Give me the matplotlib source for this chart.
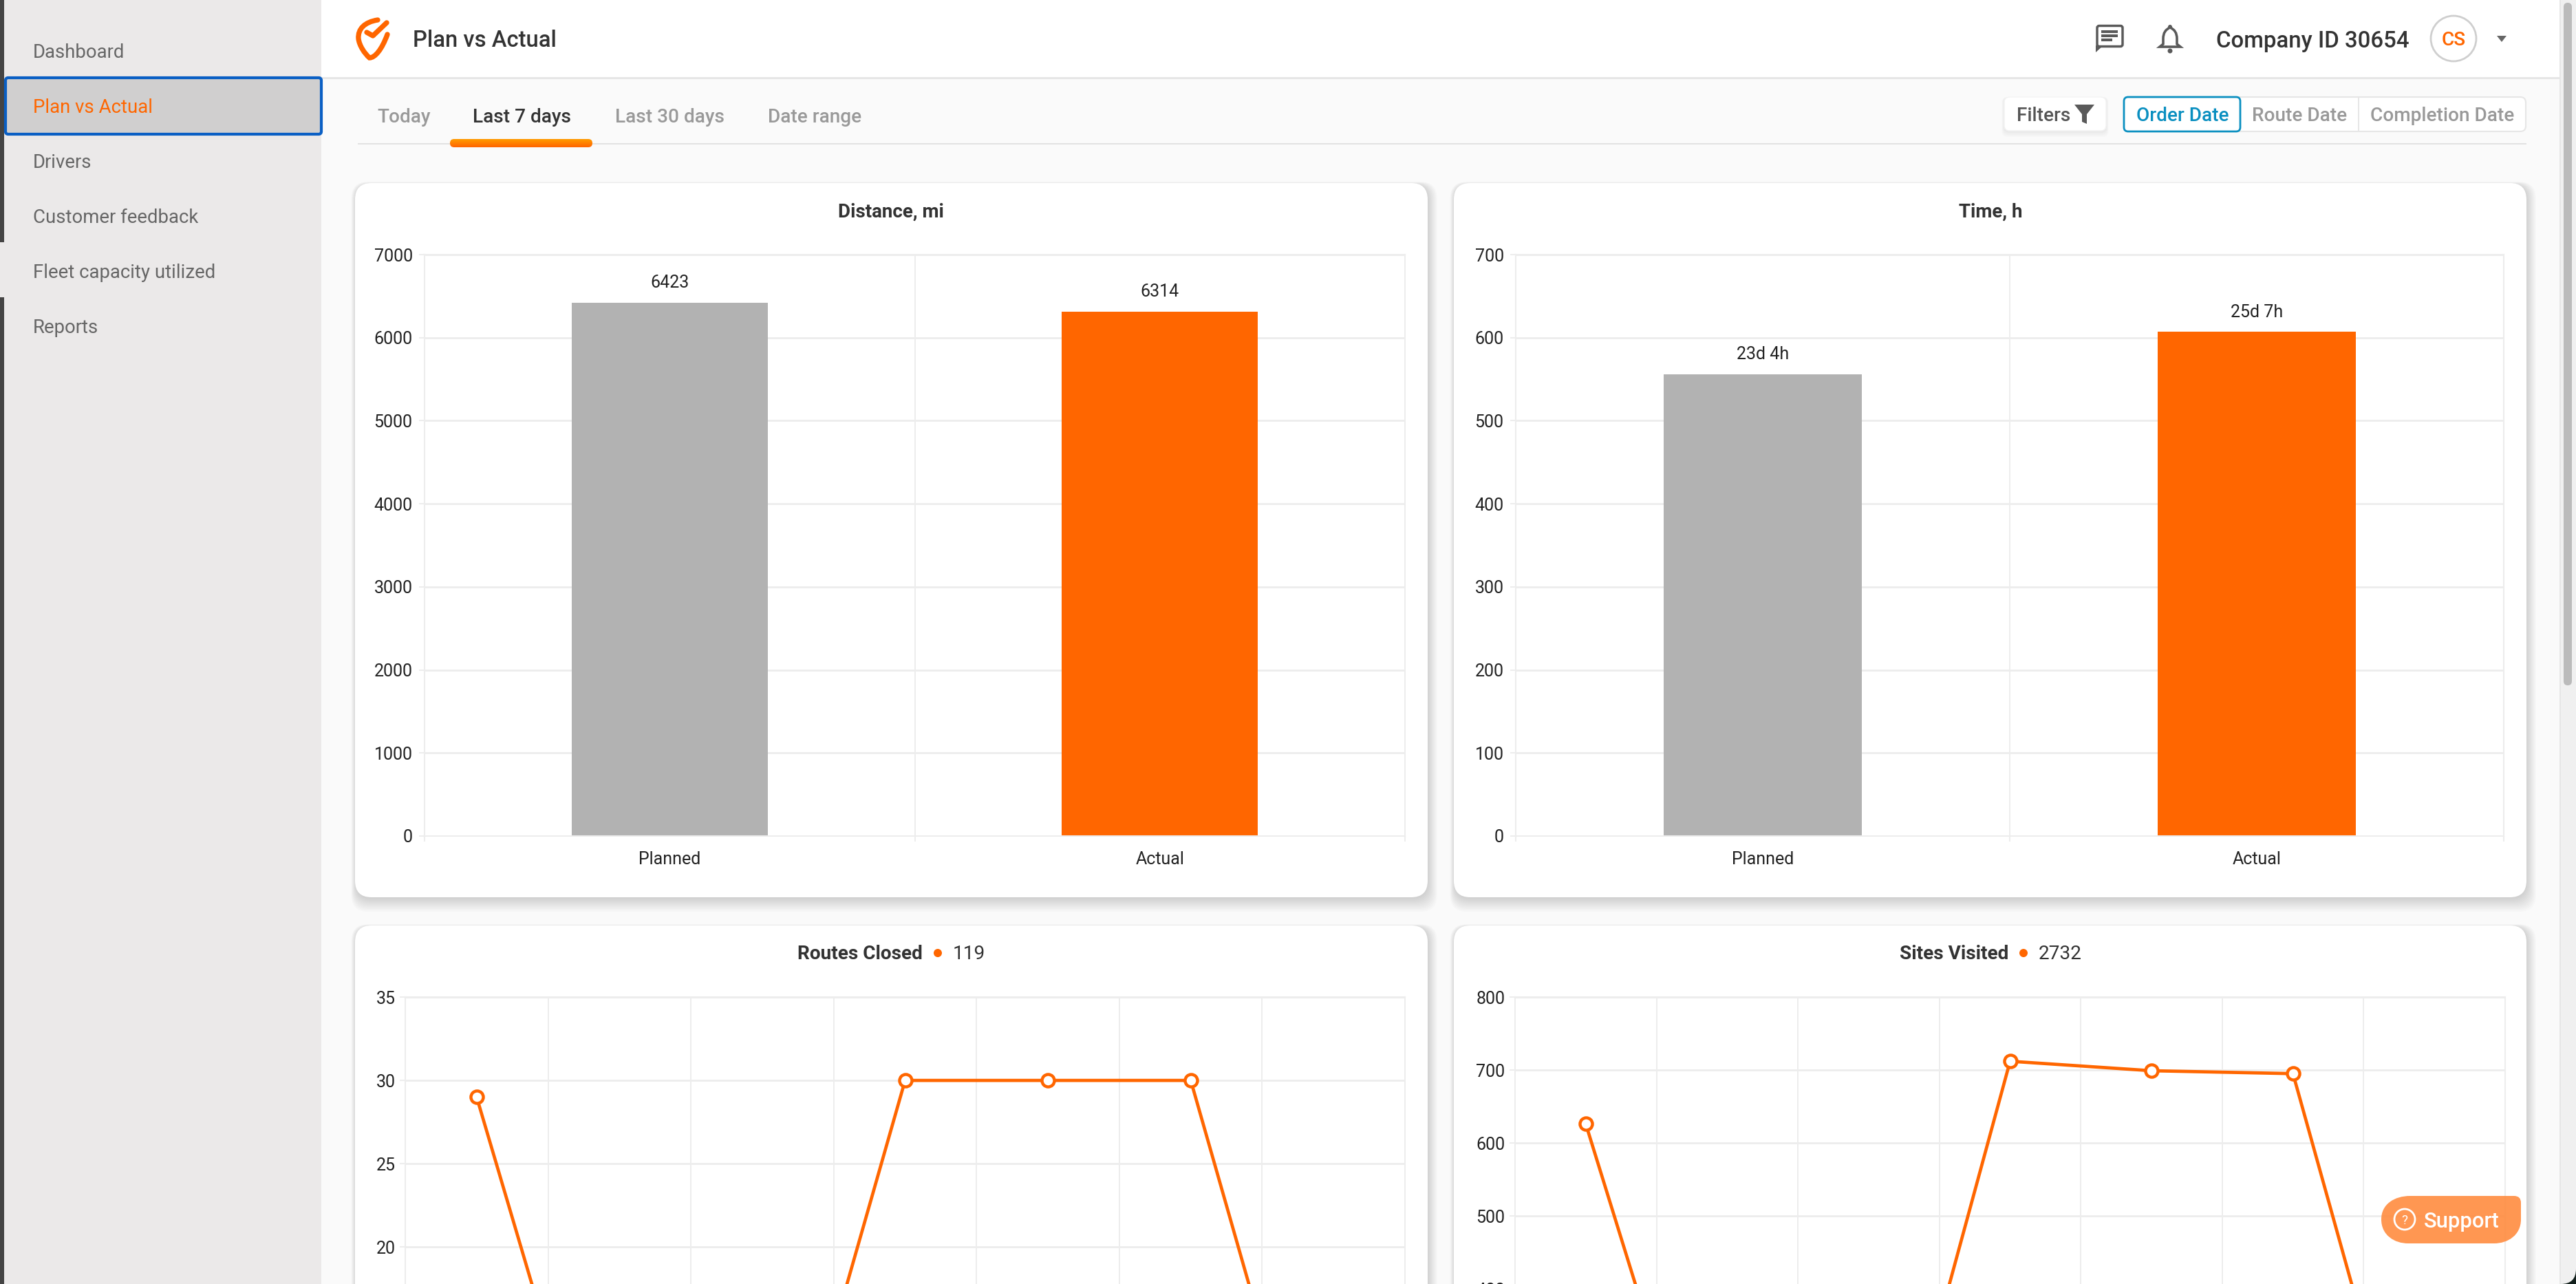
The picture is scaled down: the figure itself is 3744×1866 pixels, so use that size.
import matplotlib
matplotlib.use('Agg')
from matplotlib import pyplot as plt
from matplotlib.patches import FancyBboxPatch, Rectangle, Circle, PathPatch, Polygon
from matplotlib.path import Path
import numpy as np

plt.rcParams['font.family'] = ['Roboto', 'DejaVu Sans']

W, H = 3744, 1866
ORANGE = '#ff6600'
GRAY_BAR = '#b2b2b2'
GRID = '#ededed'
DARK = '#333333'

# bar charts
bar_labels = ['Planned', 'Actual']
distance_values = [6423, 6314]
distance_text = ['6423', '6314']
distance_ticks = [0, 1000, 2000, 3000, 4000, 5000, 6000, 7000]
time_values = [556, 607]
time_text = ['23d 4h', '25d 7h']
time_ticks = [0, 100, 200, 300, 400, 500, 600, 700]

# line charts, the lower part is cut off by the screen
routes_values = [29, 0, 0, 30, 30, 30, 0]
routes_ticks = [20, 25, 30, 35]
sites_values = [626, 0, 0, 712, 699, 695, 0]
sites_ticks = [400, 500, 600, 700, 800]

menu_items = ['Dashboard', 'Plan vs Actual', 'Drivers', 'Customer feedback', 'Fleet capacity utilized', 'Reports']
tab_items = ['Today', 'Last 7 days', 'Last 30 days', 'Date range']
date_items = ['Order Date', 'Route Date', 'Completion Date']

fig = plt.figure(figsize=(W / 100, H / 100), dpi=100, facecolor='#fafafa')
bg = fig.add_axes([0, 0, 1, 1], zorder=0)
top = fig.add_axes([0, 0, 1, 1], zorder=3)
for a in (bg, top):
    a.set_xlim(0, W)
    a.set_ylim(H, 0)
    a.axis('off')


def px(size):
    return size * 0.72


def rect(ax, x0, y0, x1, y1, color, z=1, **kw):
    ax.add_patch(Rectangle((x0, y0), x1 - x0, y1 - y0, facecolor=color, edgecolor='none', zorder=z, **kw))


def rounded(ax, x0, y0, x1, y1, r, face, edge='none', lw=0, z=1, alpha=None):
    patch = FancyBboxPatch((x0 + r, y0 + r), x1 - x0 - 2 * r, y1 - y0 - 2 * r,
                           boxstyle=f'round,pad={r},rounding_size={r}',
                           facecolor=face, edgecolor=edge, linewidth=lw, zorder=z, alpha=alpha)
    ax.add_patch(patch)
    return patch


def label(ax, x, y, s, size, color=DARK, weight='normal', ha='left', z=5):
    ax.text(x, y, s, fontsize=px(size), color=color, fontweight=weight, ha=ha, va='center_baseline', zorder=z)


def card(x0, y0, x1, y1):
    # soft shadow, stronger on the bottom and right
    for i in range(12, 0, -1):
        rounded(bg, x0 + 3 - i * 0.7, y0 + 3 - i * 0.4, x1 - 3 + i * 1.4, y1 - 3 + i * 2.0, 24, '#000000', z=2, alpha=0.017)
    rounded(bg, x0, y0, x1, y1, 24, 'white', z=3)


def chart_axes(x0, y0, x1, y1):
    ax = fig.add_axes([x0 / W, 1 - y1 / H, (x1 - x0) / W, (y1 - y0) / H], zorder=1)
    ax.patch.set_alpha(0)
    for s in ax.spines.values():
        s.set_color(GRID)
        s.set_linewidth(1.5)
    ax.set_axisbelow(True)
    ax.grid(True, axis='y', color=GRID, linewidth=2)
    ax.grid(True, axis='x', color=GRID, linewidth=1.4)
    ax.tick_params(axis='both', color=GRID, length=6, width=1.5, labelcolor='#222222', labelsize=px(25), pad=4.5)
    return ax


def bar_chart(x0, x1, values, texts, ticks):
    ax = chart_axes(x0, 370, x1, 1215)
    ax.bar([0.5, 1.5], values, width=0.4, color=[GRAY_BAR, ORANGE], zorder=2)
    ax.set_xlim(0, 2)
    ax.set_ylim(ticks[0], ticks[-1])
    ax.set_yticks(ticks)
    ax.set_xticks([0, 1, 2])
    ax.set_xticklabels([])
    ax.tick_params(axis='y', pad=6.5)
    for i, name in enumerate(bar_labels):
        ax.annotate(name, (i + 0.5, 0), xytext=(0, -32 * 0.72), textcoords='offset points',
                    ha='center', va='center_baseline', fontsize=px(25), color='#222222')
        ax.annotate(texts[i], (i + 0.5, values[i]), xytext=(0, 31 * 0.72), textcoords='offset points',
                    ha='center', va='center_baseline', fontsize=px(25), color='#222222')


def line_chart(x0, x1, values, ticks, y_max):
    ax = chart_axes(x0, 1449, x1, 2297)
    ax.plot([i + 0.5 for i in range(len(values))], values, color=ORANGE, linewidth=3.4,
            marker='o', markersize=13, markerfacecolor='white', markeredgecolor=ORANGE,
            markeredgewidth=3.2, clip_on=False, zorder=3)
    ax.set_xlim(0, len(values))
    ax.set_ylim(0, y_max)
    ax.set_yticks(ticks)
    ax.set_xticks(range(len(values) + 1))
    ax.set_xticklabels([])
    return ax


# page frame
rect(bg, 0, 0, 467, H, '#ebe9e9')
rect(bg, 467, 0, 3720, 112, 'white')
rect(bg, 467, 112, 3720, 114.5, '#e6e6e6')
rect(bg, 0, 0, 6, 352, '#444444', z=2)
rect(bg, 0, 432, 6, H, '#444444', z=2)
rect(bg, 3720, 0, W, H, '#f0f0f0')
rect(bg, 3720, 0, 3722, H, '#e6e6e6')
rounded(bg, 3726, 4, 3738, 996, 6, '#bbbbbb', z=2)
corner = Path([(W, 1844), (W, H), (3722, H), (W, H), (W, 1844)],
              [Path.MOVETO, Path.CURVE3, Path.CURVE3, Path.LINETO, Path.CLOSEPOLY])
bg.add_patch(PathPatch(corner, facecolor='#12201c', edgecolor='none', zorder=6))

# sidebar
rounded(bg, 8, 113, 467, 195, 4, '#d0cfcf', edge='#0a5fc4', lw=3, z=2)
for i, name in enumerate(menu_items):
    label(bg, 48, 73 + i * 80, name, 27.5, color=ORANGE if i == 1 else '#666666')

# logo
pin = Path([(549, 29), (530, 32), (520, 42), (521, 56), (522, 66), (530, 78), (537, 84), (545, 84), (555, 72), (563, 50)],
           [Path.MOVETO] + [Path.CURVE4] * 9)
bg.add_patch(PathPatch(pin, facecolor='none', edgecolor=ORANGE, linewidth=5.3, capstyle='round', zorder=4))
bg.plot([533, 542, 562], [47, 52, 33], color=ORANGE, linewidth=5.3, solid_capstyle='round', solid_joinstyle='round', zorder=4)

label(bg, 600, 56, 'Plan vs Actual', 32.8, color=DARK, weight='medium')

# header right
rounded(bg, 3048, 37.5, 3085, 67.5, 3, 'none', edge='#5a5a5a', lw=2.5, z=4)
bg.add_patch(Polygon([(3046, 66), (3046, 76), (3056, 67)], facecolor='#5a5a5a', zorder=4))
for yy, x_end in [(46, 3078), (52, 3078), (58, 3070)]:
    rect(bg, 3054, yy - 2, x_end, yy + 2, '#5a5a5a', z=4)
bell = Path([(3154, 40), (3144, 44), (3144, 56), (3144, 64), (3139, 68), (3169, 68), (3164, 64), (3164, 56), (3164, 44), (3154, 40)],
            [Path.MOVETO, Path.CURVE3, Path.CURVE3, Path.LINETO, Path.LINETO, Path.LINETO, Path.LINETO, Path.LINETO, Path.CURVE3, Path.CURVE3])
bg.add_patch(PathPatch(bell, facecolor='none', edgecolor='#5a5a5a', linewidth=2.6, zorder=4))
bg.add_patch(Circle((3154, 74), 3.5, facecolor='#5a5a5a', zorder=4))
bg.add_patch(Circle((3154, 39), 3, facecolor='#5a5a5a', zorder=4))
label(bg, 3221, 56, 'Company ID 30654', 33, color=DARK, weight='medium')
bg.add_patch(Circle((3566, 56), 33, facecolor='white', edgecolor='#cfcfcf', linewidth=2, zorder=4))
label(bg, 3566, 56, 'CS', 28, color=ORANGE, weight='medium', ha='center')
bg.add_patch(Polygon([(3629, 52), (3643, 52), (3636, 61)], facecolor='#666666', zorder=4))

# tabs
rect(bg, 520, 207.5, 3672, 210, '#e2e2e2')
pill = rounded(bg, 654, 202, 861, 214, 6, 'none', z=2)
shade = bg.imshow(np.linspace(0, 1, 12).reshape(-1, 1), extent=(654, 861, 214, 202), aspect='auto', zorder=2,
                  cmap=matplotlib.colors.LinearSegmentedColormap.from_list('pill', ['#ff9a00', '#ff6600']))
shade.set_clip_path(pill)
bg.set_xlim(0, W)
bg.set_ylim(H, 0)
for x, name, col in zip([548, 687, 894, 1116], tab_items, ['#999999', DARK, '#999999', '#999999']):
    label(bg, x, 168, name, 28, color=col, weight='medium')

# filters
for i in range(6, 0, -1):
    rounded(bg, 2913 - i * 0.6, 141, 3061 + i * 0.6, 190 + i * 1.5, 8, '#000000', z=2, alpha=0.012)
rounded(bg, 2913, 141, 3061, 190, 8, 'white', edge='#f3f3f3', lw=1, z=3)
label(bg, 2931, 165, 'Filters', 28, color='#555555', weight='medium')
bg.add_patch(Polygon([(3015, 152), (3044, 152), (3033, 166), (3033, 180), (3026, 177), (3026, 166)], facecolor='#5a5a5a', zorder=4))
rounded(bg, 3087, 141, 3671, 191, 8, 'white', edge='#e6e6e6', lw=1.5, z=3)
rect(bg, 3427, 142, 3429, 190, '#e6e6e6', z=4)
rounded(bg, 3087, 141, 3256, 191, 6, 'white', edge='#0a8fc0', lw=2, z=4)
for x, name, col in zip([3105, 3273, 3445], date_items, ['#0a8fc0', '#999999', '#999999']):
    label(bg, x, 165, name, 28, color=col, weight='medium')

# cards
card(516, 266, 2075, 1304)
card(2113, 266, 3672, 1304)
card(516, 1345, 2075, H + 60)
card(2113, 1345, 3672, H + 60)

label(bg, 1295, 305, 'Distance, mi', 27.7, color=DARK, weight='bold', ha='center')
label(bg, 2893, 305, 'Time, h', 27.7, color=DARK, weight='bold', ha='center')
label(bg, 1159, 1384, 'Routes Closed', 28, color=DARK, weight='bold')
bg.add_patch(Circle((1363, 1385), 6, facecolor=ORANGE, zorder=5))
label(bg, 1385, 1384, '119', 28, color=DARK)
label(bg, 2761, 1384, 'Sites Visited', 28, color=DARK, weight='bold')
bg.add_patch(Circle((2941, 1385), 6, facecolor=ORANGE, zorder=5))
label(bg, 2963, 1384, '2732', 28, color=DARK)

bar_chart(617, 2042, distance_values, distance_text, distance_ticks)
bar_chart(2203, 3639, time_values, time_text, time_ticks)
line_chart(589, 2042, routes_values, routes_ticks, 35)
line_chart(2202, 3641, sites_values, sites_ticks, 800)

# support button
btn = Path([(3503, 1738), (3654, 1738), (3664, 1738), (3664, 1748), (3664, 1772), (3664, 1795), (3645, 1807), (3625, 1807),
            (3500, 1807), (3480, 1807), (3461, 1795), (3461, 1772), (3461, 1750), (3480, 1738), (3503, 1738)],
           [Path.MOVETO, Path.LINETO, Path.CURVE3, Path.CURVE3, Path.LINETO, Path.CURVE4, Path.CURVE4, Path.CURVE4,
            Path.LINETO, Path.CURVE4, Path.CURVE4, Path.CURVE4, Path.CURVE4, Path.CURVE4, Path.CURVE4])
top.add_patch(PathPatch(btn, facecolor='#ff8c3f', edgecolor='none', alpha=0.9, zorder=2))
top.add_patch(Circle((3495, 1772), 15, facecolor='none', edgecolor='white', linewidth=2, zorder=3))
label(top, 3495, 1772, '?', 19, color='white', ha='center')
label(top, 3523, 1772, 'Support', 31, color='white', weight='medium')

fig.savefig('out.png', dpi=100)
